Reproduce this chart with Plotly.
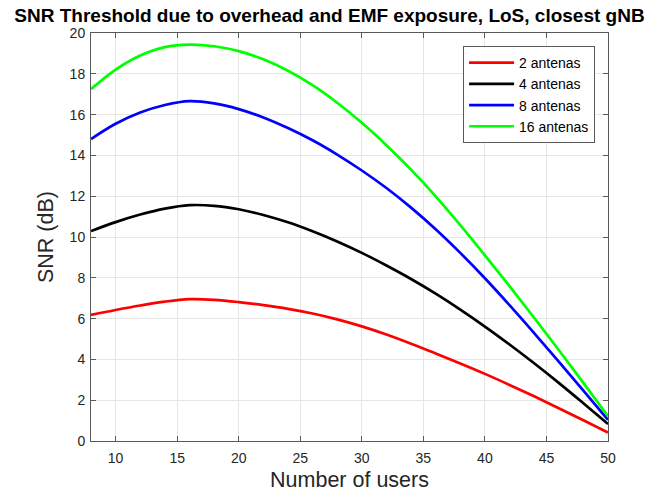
import plotly.graph_objects as go

# Number of users (x) and SNR threshold in dB for each antenna count
users = [8, 10, 12, 14, 16, 18, 20, 22, 24, 26, 28, 30,
         32, 34, 36, 38, 40, 42, 44, 46, 48, 50]

snr_2 = [6.18, 6.42, 6.64, 6.83, 6.95, 6.92, 6.81, 6.66, 6.48, 6.25, 5.96, 5.62,
         5.22, 4.77, 4.29, 3.80, 3.29, 2.75, 2.19, 1.61, 1.02, 0.42]
snr_4 = [10.29, 10.73, 11.10, 11.39, 11.56, 11.53, 11.36, 11.08, 10.72, 10.28, 9.78, 9.22,
         8.60, 7.94, 7.22, 6.44, 5.61, 4.73, 3.81, 2.85, 1.85, 0.83]
snr_8 = [14.80, 15.55, 16.10, 16.47, 16.66, 16.55, 16.27, 15.86, 15.34, 14.74, 14.04, 13.26,
         12.40, 11.44, 10.38, 9.22, 7.98, 6.66, 5.29, 3.89, 2.47, 1.04]
snr_16 = [17.25, 18.21, 18.90, 19.31, 19.43, 19.35, 19.11, 18.71, 18.15, 17.44, 16.58, 15.60,
          14.50, 13.30, 11.99, 10.58, 9.10, 7.59, 6.04, 4.46, 2.85, 1.21]

series = [
    ("2 antenas", snr_2, "#ff0000"),
    ("4 antenas", snr_4, "#000000"),
    ("8 antenas", snr_8, "#0000ff"),
    ("16 antenas", snr_16, "#00ff00"),
]

x_ticks = [10, 15, 20, 25, 30, 35, 40, 45, 50]
y_ticks = [0, 2, 4, 6, 8, 10, 12, 14, 16, 18, 20]

FONT = "Liberation Sans, Arial, sans-serif"
TEXT_GREY = "#262626"
LINE_GREY = "#5a5a5a"

fig = go.Figure()
for name, vals, color in series:
    fig.add_trace(go.Scatter(
        x=users, y=vals, name=name, mode="lines",
        line=dict(color=color, width=2.7, shape="spline", smoothing=1.0),
    ))

axis_common = dict(
    showline=True, linecolor=LINE_GREY, linewidth=1, mirror="ticks",
    ticks="inside", ticklen=5, tickcolor=LINE_GREY, tickwidth=1,
    showgrid=True, gridcolor="#e6e6e6", gridwidth=1,
    zeroline=False, automargin=False,
    tickfont=dict(family=FONT, size=14, color=TEXT_GREY),
)

fig.update_layout(
    width=659, height=493,
    margin=dict(l=91, r=51, t=33, b=52),
    paper_bgcolor="white", plot_bgcolor="white",
    title=dict(
        text="<b>SNR Threshold due to overhead and EMF exposure, LoS, closest gNB</b>",
        font=dict(family=FONT, size=19, color="#000000"),
        x=0.5, xref="container", xanchor="center",
        y=1 - 15 / 493, yref="container", yanchor="middle",
    ),
    xaxis=dict(
        range=[8, 50], tickvals=x_ticks, ticklabelstandoff=4,
        title=dict(text="Number of users", standoff=7,
                   font=dict(family=FONT, size=21.5, color=TEXT_GREY)),
        **axis_common,
    ),
    yaxis=dict(
        range=[0, 20], tickvals=y_ticks, ticklabelstandoff=2,
        title=dict(text="SNR (dB)", standoff=10,
                   font=dict(family=FONT, size=21.5, color=TEXT_GREY)),
        **axis_common,
    ),
    legend=dict(
        x=0.975, y=0.968, xanchor="right", yanchor="top",
        bgcolor="white", bordercolor=LINE_GREY, borderwidth=1,
        font=dict(family=FONT, size=14, color="#000000"),
        tracegroupgap=0, itemwidth=45,
    ),
    showlegend=True,
)

fig.write_html("out.html")
